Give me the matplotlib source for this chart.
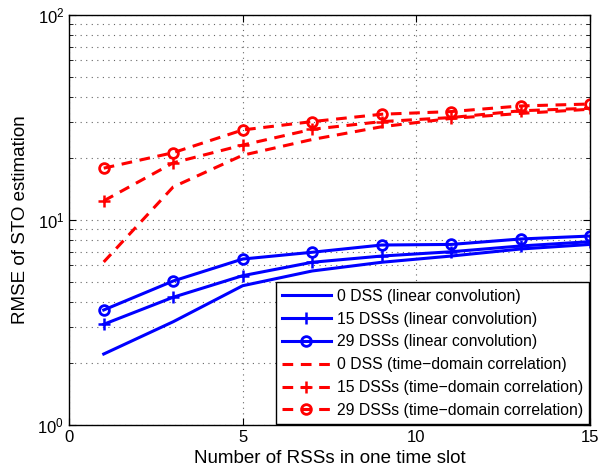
import matplotlib
matplotlib.use("Agg")
import matplotlib.pyplot as plt
from matplotlib.ticker import LogLocator, NullFormatter

plt.rcParams['font.family'] = ['Liberation Sans', 'DejaVu Sans']

x = [1, 3, 5, 7, 9, 11, 13, 15]
lc_0 = [2.22, 3.19, 4.78, 5.64, 6.22, 6.67, 7.22, 7.6]
lc_15 = [3.10, 4.20, 5.35, 6.22, 6.67, 7.0, 7.47, 7.84]
lc_29 = [3.64, 5.04, 6.45, 6.96, 7.55, 7.6, 8.08, 8.35]
td_0 = [6.24, 14.5, 20.7, 24.7, 28.5, 31.3, 33.1, 34.7]
td_15 = [12.4, 19.0, 23.2, 27.7, 30.2, 31.6, 34.1, 35.1]
td_29 = [17.9, 21.3, 27.5, 30.2, 32.8, 33.8, 36.0, 36.8]

labels = ['0 DSS (linear convolution)', '15 DSSs (linear convolution)',
          '29 DSSs (linear convolution)', '0 DSS (time\u2212domain correlation)',
          '15 DSSs (time\u2212domain correlation)', '29 DSSs (time\u2212domain correlation)']

fig = plt.figure(figsize=(6.11, 4.74), dpi=100)
ax = fig.add_axes([69/611, 49/474, 521/611, 410/474])

lw = 2.2
ax.plot(x, lc_0, '-', color='#0000ff', lw=lw, label=labels[0])
ax.plot(x, lc_15, '-', color='#0000ff', lw=lw, marker='+', ms=8, mew=1.8, label=labels[1])
ax.plot(x, lc_29, '-', color='#0000ff', lw=lw, marker='o', ms=7, mew=2, mfc='none', label=labels[2])
ax.plot(x, td_0, '--', color='#ff0000', lw=lw, dashes=(3.5, 2.5), label=labels[3])
ax.plot(x, td_15, '--', color='#ff0000', lw=lw, dashes=(3.5, 2.5), marker='+', ms=8, mew=1.8, label=labels[4])
ax.plot(x, td_29, '--', color='#ff0000', lw=lw, dashes=(3.5, 2.5), marker='o', ms=7, mew=2, mfc='none', label=labels[5])

ax.set_yscale('log')
ax.set_xlim(0, 15)
ax.set_ylim(1, 100)
ax.set_xticks([0, 5, 10, 15])
ax.yaxis.set_major_locator(LogLocator(base=10, numticks=5))
ax.yaxis.set_minor_locator(LogLocator(base=10, subs=range(2, 10), numticks=20))
ax.yaxis.set_minor_formatter(NullFormatter())
ax.tick_params(which='both', direction='in', top=True, right=True, labelsize=12)
ax.tick_params(which='major', length=5)
ax.tick_params(which='minor', length=3)
ax.grid(True, which='major', ls=(0, (1, 4)), color='#666666', lw=0.8)
ax.grid(True, which='minor', axis='y', ls=(0, (1, 4)), color='#666666', lw=0.8)
for s in ax.spines.values():
    s.set_linewidth(1.0)

ax.set_xlabel('Number of RSSs in one time slot', fontsize=13.5, labelpad=4)
ax.set_ylabel('RMSE of STO estimation', fontsize=13.5, labelpad=6)

leg = ax.legend(loc='lower right', fontsize=11.3, handlelength=3.1, borderaxespad=0.05,
                fancybox=False, edgecolor='black', framealpha=1, labelspacing=0.5,
                handletextpad=0.4, borderpad=0.4)
leg.get_frame().set_linewidth(1.0)

fig.savefig('out.png', dpi=100)
